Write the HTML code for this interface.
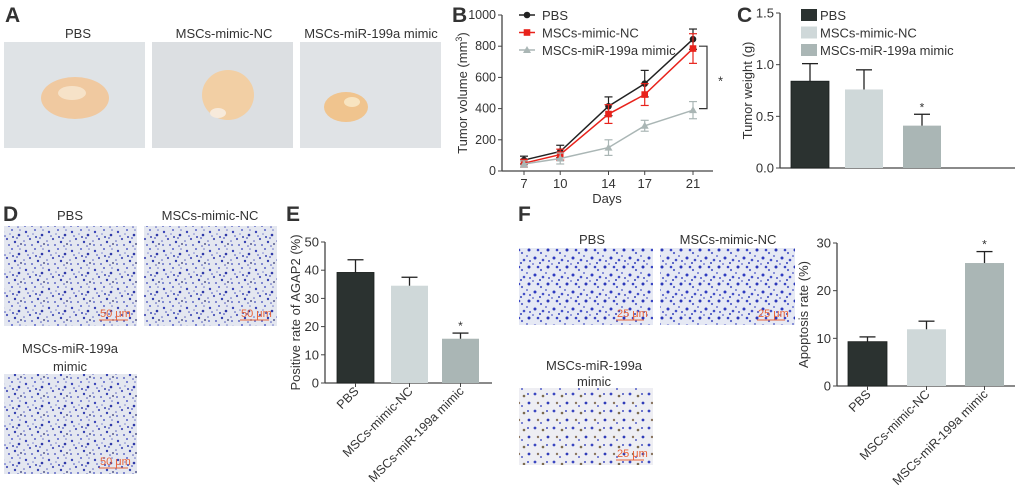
<!DOCTYPE html>
<html><head><meta charset="utf-8"><style>
body{margin:0;background:#fff;}
svg{display:block;font-family:"Liberation Sans",sans-serif;}
</style></head><body>
<svg id="fig" width="1020" height="498" viewBox="0 0 1020 498">
<defs>
<pattern id="cellsD" width="23" height="19" patternUnits="userSpaceOnUse">
<rect width="23" height="19" fill="#e4e7f0"/>
<circle cx="3" cy="4" r="1.2" fill="#3b45b8"/><circle cx="12" cy="2" r="1" fill="#5560c8"/><circle cx="19" cy="7" r="1.3" fill="#2e38a8"/>
<circle cx="7" cy="11" r="1.1" fill="#4a52b8"/><circle cx="15" cy="14" r="1.2" fill="#3440b0"/><circle cx="2" cy="17" r="1" fill="#6670c8"/>
<circle cx="21" cy="16" r="0.9" fill="#2b2f70"/><circle cx="10" cy="6" r="0.8" fill="#7c84d0"/><circle cx="17" cy="10" r="0.9" fill="#5058c0"/>
<circle cx="5" cy="8" r="0.8" fill="#4450c0"/><circle cx="13" cy="9" r="1" fill="#3a44b0"/><circle cx="20" cy="2" r="0.8" fill="#6a72c8"/>
<circle cx="9" cy="17" r="0.9" fill="#3a44b8"/><circle cx="1" cy="13" r="0.8" fill="#5a62c0"/><circle cx="18" cy="18" r="0.8" fill="#4a52b8"/>
</pattern>
<pattern id="cellsF" width="19" height="17" patternUnits="userSpaceOnUse">
<rect width="19" height="17" fill="#e6e9f4"/>
<circle cx="3" cy="3" r="1.5" fill="#2f3bc0"/><circle cx="11" cy="5" r="1.3" fill="#4450c8"/><circle cx="16" cy="12" r="1.5" fill="#2a36b8"/>
<circle cx="6" cy="12" r="1.3" fill="#3a46c4"/><circle cx="14" cy="1" r="1" fill="#6a74d0"/><circle cx="9" cy="15" r="1.1" fill="#5560c8"/>
<circle cx="8" cy="8" r="1" fill="#3440b8"/><circle cx="17" cy="6" r="1" fill="#4a54c4"/><circle cx="1" cy="9" r="0.9" fill="#5862c8"/>
</pattern>
<pattern id="cellsF3" width="19" height="17" patternUnits="userSpaceOnUse">
<rect width="19" height="17" fill="#eeeef3"/>
<circle cx="3" cy="3" r="1.4" fill="#3a46c0"/><circle cx="11" cy="5" r="1.3" fill="#7a6a50"/><circle cx="16" cy="12" r="1.4" fill="#2f3bb8"/>
<circle cx="6" cy="12" r="1.2" fill="#8a7560"/><circle cx="9" cy="15" r="1" fill="#5560c8"/><circle cx="15" cy="3" r="1" fill="#4450c0"/>
</pattern>
</defs>
<g font-weight="bold" font-size="21" fill="#333">
<text x="5" y="22">A</text>
<text x="452" y="22">B</text>
<text x="737" y="22">C</text>
<text x="3" y="221">D</text>
<text x="286" y="221">E</text>
<text x="518" y="221">F</text>
</g>
<g font-size="13" fill="#333" text-anchor="middle">
<text x="78" y="38">PBS</text>
<text x="224" y="38">MSCs-mimic-NC</text>
<text x="371" y="38">MSCs-miR-199a mimic</text>
</g>
<g><rect x="4" y="42" width="141" height="106" fill="#dfe3e6"/><ellipse cx="75" cy="98" rx="34" ry="21" fill="#f0c9a0"/><ellipse cx="72" cy="93" rx="14" ry="7" fill="#f6e2c8"/></g>
<g><rect x="152" y="42" width="141" height="106" fill="#dcdfe2"/><ellipse cx="228" cy="95" rx="26" ry="25" fill="#f2cfa4"/><ellipse cx="218" cy="113" rx="8" ry="5" fill="#f7eadb"/></g>
<g><rect x="300" y="42" width="141" height="106" fill="#e0e3e6"/><ellipse cx="346" cy="107" rx="22" ry="15" fill="#f0c48e"/><ellipse cx="352" cy="102" rx="8" ry="5" fill="#f8e4c0"/></g>

<g font-size="13" fill="#333" text-anchor="middle">
<text x="70" y="220">PBS</text>
<text x="210" y="220">MSCs-mimic-NC</text>
<text x="70" y="353">MSCs-miR-199a</text>
<text x="70" y="371">mimic</text>
</g>
<rect x="4" y="226" width="133" height="100" fill="url(#cellsD)"/>
<rect x="144" y="226" width="133" height="100" fill="url(#cellsD)"/>
<rect x="4" y="374" width="133" height="100" fill="url(#cellsD)"/>
<g fill="#e8643a" font-size="11">
<text x="100" y="317">50 μm</text><line x1="99" y1="320" x2="128" y2="320" stroke="#e8643a"/>
<text x="241" y="317">50 μm</text><line x1="240" y1="320" x2="269" y2="320" stroke="#e8643a"/>
<text x="100" y="465">50 μm</text><line x1="99" y1="468" x2="128" y2="468" stroke="#e8643a"/>
</g>
<g font-size="13" fill="#333" text-anchor="middle">
<text x="592" y="244">PBS</text>
<text x="728" y="244">MSCs-mimic-NC</text>
<text x="594" y="370">MSCs-miR-199a</text>
<text x="594" y="386">mimic</text>
</g>
<rect x="519" y="248" width="134" height="77" fill="url(#cellsF)"/>
<rect x="660" y="248" width="135" height="77" fill="url(#cellsF)"/>
<rect x="519" y="388" width="134" height="77" fill="url(#cellsF3)"/>
<g fill="#e8643a" font-size="11">
<text x="617" y="317">25 μm</text><line x1="616" y1="320" x2="644" y2="320" stroke="#e8643a"/>
<text x="758" y="317">25 μm</text><line x1="757" y1="320" x2="785" y2="320" stroke="#e8643a"/>
<text x="617" y="457">25 μm</text><line x1="616" y1="460" x2="644" y2="460" stroke="#e8643a"/>
</g>
<g id="charts"></g>
</svg>
<script>
const NS="http://www.w3.org/2000/svg";
const root=document.getElementById('charts');
function mk(tag,at,parent,txt){const e=document.createElementNS(NS,tag);for(const k in at)e.setAttribute(k,at[k]);if(txt!==undefined)e.textContent=txt;(parent||root).appendChild(e);return e;}

// ---- Panel B data ----
const daysB=[7,10,14,17,21];
const pbsVol=[70,125,415,560,845];
const pbsErr=[25,40,60,85,65];
const ncVol=[50,105,365,490,785];
const ncErr=[25,35,60,70,95];
const mimicVol=[45,80,150,290,390];
const mimicErr=[20,35,50,35,55];
const ticksB=[0,200,400,600,800,1000];
// ---- Panel C data ----
const groups=["PBS","MSCs-mimic-NC","MSCs-miR-199a mimic"];
const weightC=[0.84,0.76,0.41];
const weightErr=[0.17,0.19,0.11];
const ticksC=[0.0,0.5,1.0,1.5];
// ---- Panel E data ----
const agapE=[39.2,34.5,15.7];
const agapErr=[4.5,3,2];
const ticksE=[0,10,20,30,40,50];
// ---- Panel F data ----
const apopF=[9.3,11.9,25.8];
const apopErr=[1,1.7,2.4];
const ticksF=[0,10,20,30];
const sigStar=[false,false,true];
const barColors=["#2b3230","#cfd8d9","#aab6b5"];

// Panel B
(function(){
 const g=mk('g',{});
 const X0=502,Y0=171,Ytop=15;
 const xs=d=>524+(d-7)*(693-524)/14;
 const ys=v=>Y0-(v/1000)*(Y0-Ytop);
 mk('line',{x1:X0,y1:Ytop,x2:X0,y2:Y0,stroke:'#444','stroke-width':1.3},g);
 mk('line',{x1:X0,y1:Y0,x2:713,y2:Y0,stroke:'#444','stroke-width':1.3},g);
 ticksB.forEach(t=>{mk('line',{x1:X0-4,y1:ys(t),x2:X0,y2:ys(t),stroke:'#444'},g);
  const tl=mk('text',{x:X0-6,y:ys(t)+4,'text-anchor':'end','font-size':12.5,fill:'#333'},g,t);
  });
 daysB.forEach(d=>{mk('line',{x1:xs(d),y1:Y0,x2:xs(d),y2:Y0+4,stroke:'#444'},g);
  const tl=mk('text',{x:xs(d),y:Y0+17,'text-anchor':'middle','font-size':13,fill:'#333'},g,d);
  });
 const xt=mk('text',{x:607,y:203,'text-anchor':'middle','font-size':13,fill:'#333'},g,'Days');
 
 const yt=mk('text',{transform:'translate(467,93) rotate(-90)','text-anchor':'middle','font-size':13,fill:'#333'},g);
 
 yt.innerHTML='Tumor volume (mm<tspan dy="-5" font-size="9">3</tspan><tspan dy="5">)</tspan>';
 const series=[[pbsVol,pbsErr,'#222','circle','PBS'],[ncVol,ncErr,'#e8231c','square','MSCs-mimic-NC'],[mimicVol,mimicErr,'#aab6b5','tri','MSCs-miR-199a mimic']];
 series.forEach((s,si)=>{
  const sg=mk('g',{},g);
  
  
  const pts=daysB.map((d,i)=>xs(d)+','+ys(s[0][i])).join(' ');
  mk('polyline',{points:pts,fill:'none',stroke:s[2],'stroke-width':1.5},sg);
  daysB.forEach((d,i)=>{const x=xs(d),y=ys(s[0][i]),e=s[1][i];
   mk('line',{x1:x,y1:ys(s[0][i]-e),x2:x,y2:ys(s[0][i]+e),stroke:s[2],'stroke-width':1.2},sg);
   [s[0][i]-e,s[0][i]+e].forEach(v=>mk('line',{x1:x-4,y1:ys(v),x2:x+4,y2:ys(v),stroke:s[2],'stroke-width':1.2},sg));
   drawMark(sg,s[3],x,y,s[2]);});
  const ly=15+si*17.5;
  mk('line',{x1:519,y1:ly,x2:535,y2:ly,stroke:s[2],'stroke-width':1.5},sg);
  drawMark(sg,s[3],527,ly,s[2]);
  const lt=mk('text',{x:542,y:ly+5,'font-size':13,fill:'#333'},sg,s[4]);
  
 });
 mk('polyline',{points:`${xs(21)+6},${ys(800)} ${xs(21)+14},${ys(800)} ${xs(21)+14},${ys(400)} ${xs(21)+6},${ys(400)}`,fill:'none',stroke:'#333','stroke-width':1.2},g);
 mk('text',{x:xs(21)+25,y:ys(600)+8,'font-size':13,fill:'#333'},g,'*');
})();
function drawMark(g,type,x,y,c){
 if(type==='circle')mk('circle',{cx:x,cy:y,r:3.3,fill:c},g);
 else if(type==='square')mk('rect',{x:x-3.3,y:y-3.3,width:6.6,height:6.6,fill:c},g);
 else mk('polygon',{points:`${x},${y-4} ${x-4},${y+3} ${x+4},${y+3}`,fill:c},g);
}

function barChart(o){
 const g=mk('g',{});
 
 const ys=v=>o.y0-(v/o.max)*(o.y0-o.ytop);
 mk('line',{x1:o.x0,y1:o.ytop,x2:o.x0,y2:o.y0,stroke:'#444','stroke-width':1.3},g);
 mk('line',{x1:o.x0,y1:o.y0,x2:o.xend,y2:o.y0,stroke:'#444','stroke-width':1.3},g);
 o.ticks.forEach(t=>{mk('line',{x1:o.x0-4,y1:ys(t),x2:o.x0,y2:ys(t),stroke:'#444'},g);
  const tl=mk('text',{x:o.x0-6,y:ys(t)+4.5,'text-anchor':'end','font-size':13,fill:'#333'},g,o.fmt?t.toFixed(1):t);
  });
 const yt=mk('text',{transform:`translate(${o.ytx},${(o.y0+o.ytop)/2}) rotate(-90)`,'text-anchor':'middle','font-size':13,fill:'#333'},g,o.ytitle);
 
 o.vals.forEach((v,i)=>{const bx=o.bx[i],bw=o.bw,cx=bx+bw/2;
  const r=mk('rect',{x:bx,y:ys(v),width:bw,height:o.y0-ys(v),fill:barColors[i],stroke:i==0?'#1a1f1e':'none','stroke-width':0.8},g);
  
  const top=ys(v+o.err[i]);
  mk('line',{x1:cx,y1:ys(v),x2:cx,y2:top,stroke:'#222','stroke-width':1.3},g);
  mk('line',{x1:cx-8,y1:top,x2:cx+8,y2:top,stroke:'#222','stroke-width':1.3},g);
  if(sigStar[i])mk('text',{x:cx,y:top-3,'text-anchor':'middle','font-size':12,fill:'#333'},g,'*');
  if(o.rot){mk('line',{x1:cx,y1:o.y0,x2:cx,y2:o.y0+4,stroke:'#444'},g);
   const tl=mk('text',{transform:`translate(${cx+4},${o.y0+9}) rotate(-45)`,'text-anchor':'end','font-size':12.5,fill:'#333'},g,groups[i]);
   }
 });
 if(o.legend){groups.forEach((n,i)=>{const ly=15+i*17.5;
  mk('rect',{x:801,y:ly-6,width:16,height:12,fill:barColors[i]},g);
  const lt=mk('text',{x:820,y:ly+5,'font-size':13,fill:'#333'},g,n);
  });}
}
barChart({name:'tumor-weight-chart',x0:780,y0:168,ytop:13,xend:1015,max:1.5,ticks:ticksC,fmt:true,vals:weightC,err:weightErr,bx:[791,845,903],bw:38,ytitle:'Tumor weight (g)',ytx:752,legend:true});
barChart({name:'agap2-positive-chart',x0:325,y0:383,ytop:242,xend:492,max:50,ticks:ticksE,vals:agapE,err:agapErr,bx:[337,391,442],bw:37,ytitle:'Positive rate of AGAP2 (%)',ytx:300,rot:true});
barChart({name:'apoptosis-rate-chart',x0:837,y0:386,ytop:243,xend:1015,max:30,ticks:ticksF,vals:apopF,err:apopErr,bx:[848,907,965],bw:39,ytitle:'Apoptosis rate (%)',ytx:808,rot:true});
</script>
</body></html>
